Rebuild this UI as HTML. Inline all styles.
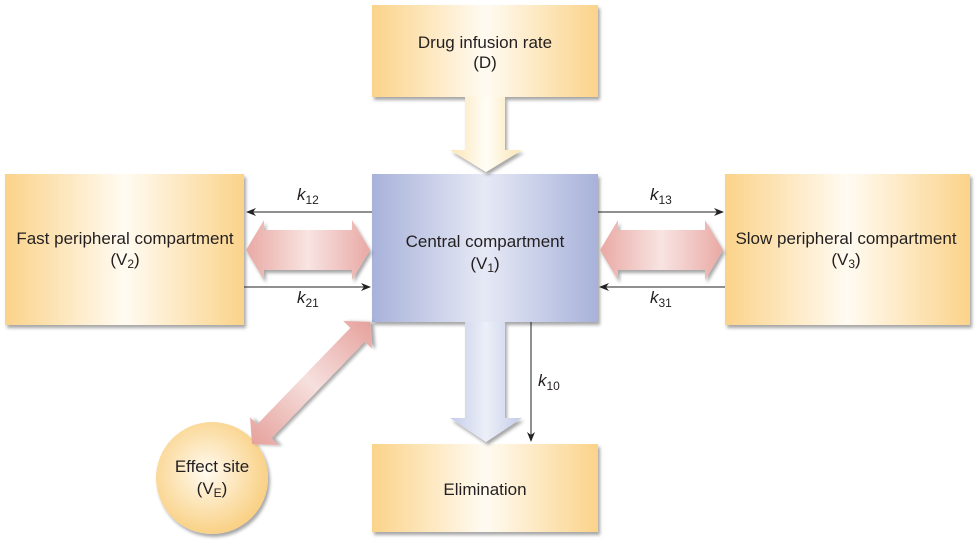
<!DOCTYPE html>
<html><head><meta charset="utf-8"><style>
html,body{margin:0;padding:0;background:#fff}
svg{display:block;font-family:"Liberation Sans",sans-serif}
</style></head><body>
<svg width="975" height="544" viewBox="0 0 975 544">
<defs>
<linearGradient id="yel" x1="0" x2="1" y1="0" y2="0"><stop offset="0" stop-color="#fbd38a"/><stop offset="0.5" stop-color="#fffbf2"/><stop offset="1" stop-color="#fbd38a"/></linearGradient>
<linearGradient id="blu" x1="0" x2="1" y1="0" y2="0"><stop offset="0" stop-color="#a8b2da"/><stop offset="0.5" stop-color="#e6e9f5"/><stop offset="1" stop-color="#a8b2da"/></linearGradient>
<linearGradient id="pink" x1="0" x2="1" y1="0" y2="0"><stop offset="0" stop-color="#e9a9a4"/><stop offset="0.5" stop-color="#f8e4e2"/><stop offset="1" stop-color="#e9a9a4"/></linearGradient>
<linearGradient id="pinkd" x1="0" x2="1" y1="0" y2="0"><stop offset="0" stop-color="#e6a19c"/><stop offset="0.5" stop-color="#f6e0de"/><stop offset="1" stop-color="#e6a19c"/></linearGradient>
<linearGradient id="cream" x1="0" x2="1"><stop offset="0" stop-color="#fbe6b4"/><stop offset="0.5" stop-color="#fffdf6"/><stop offset="1" stop-color="#fbe6b4"/></linearGradient>
<linearGradient id="lblu" x1="0" x2="1"><stop offset="0" stop-color="#c5cce8"/><stop offset="0.5" stop-color="#eceff8"/><stop offset="1" stop-color="#c5cce8"/></linearGradient>
<radialGradient id="circ" cx="0.45" cy="0.45" r="0.6"><stop offset="0" stop-color="#fffbf0"/><stop offset="1" stop-color="#f9cd7c"/></radialGradient>
<filter id="sh" x="-10%" y="-10%" width="130%" height="130%"><feDropShadow dx="2" dy="3" stdDeviation="1.5" flood-color="#000" flood-opacity="0.35"/></filter>
<marker id="ah" markerWidth="10" markerHeight="8" refX="9" refY="4" orient="auto" markerUnits="userSpaceOnUse"><path d="M0,0 L10,4 L0,8 L3,4 Z" fill="#222"/></marker>
</defs>

<rect x="372" y="5" width="226" height="92" fill="url(#yel)" filter="url(#sh)"/>
<rect x="5" y="174" width="239" height="151" fill="url(#yel)" filter="url(#sh)"/>
<rect x="372" y="174" width="226" height="148" fill="url(#blu)" filter="url(#sh)"/>
<rect x="725" y="174" width="245" height="151" fill="url(#yel)" filter="url(#sh)"/>
<rect x="372" y="444" width="226" height="88" fill="url(#yel)" filter="url(#sh)"/>
<circle cx="212" cy="478" r="56" fill="url(#circ)" filter="url(#sh)"/>

<path d="M465,97 H505 V150 H522 L486,172 L450,150 H465 Z" fill="url(#cream)" filter="url(#sh)"/>
<path d="M465,322 H505 V418 H522 L486,442 L450,418 H465 Z" fill="url(#lblu)" filter="url(#sh)"/>
<path d="M246,250 L264,220 V230 H352 V220 L370,250 L352,280 V270 H264 V280 Z" fill="url(#pink)" filter="url(#sh)"/>
<path d="M600,250 L618,220 V230 H705 V220 L723,250 L705,280 V270 H618 V280 Z" fill="url(#pink)" filter="url(#sh)"/>
<g transform="translate(311,383) rotate(-46)">
<path d="M-85,0 L-67,-20 V-10 H67 V-20 L85,0 L67,20 V10 H-67 V20 Z" fill="url(#pinkd)" filter="url(#sh)"/>
</g>

<line x1="372" y1="212" x2="247" y2="212" stroke="#222" stroke-width="1" marker-end="url(#ah)"/>
<line x1="244" y1="287" x2="370" y2="287" stroke="#222" stroke-width="1" marker-end="url(#ah)"/>
<line x1="598" y1="212" x2="723" y2="212" stroke="#222" stroke-width="1" marker-end="url(#ah)"/>
<line x1="725" y1="287" x2="600" y2="287" stroke="#222" stroke-width="1" marker-end="url(#ah)"/>
<line x1="531" y1="322" x2="531" y2="441" stroke="#222" stroke-width="1" marker-end="url(#ah)"/>

<g fill="#231f20" font-size="17" text-anchor="middle">
<text x="485" y="48">Drug infusion rate</text>
<text x="485" y="68">(D)</text>
<text x="125" y="244">Fast peripheral compartment</text>
<text x="125" y="265">(V<tspan font-size="12" dy="3">2</tspan><tspan dy="-3">)</tspan></text>
<text x="485" y="247">Central compartment</text>
<text x="485" y="269">(V<tspan font-size="12" dy="3">1</tspan><tspan dy="-3">)</tspan></text>
<text x="846" y="244">Slow peripheral compartment</text>
<text x="846" y="265">(V<tspan font-size="12" dy="3">3</tspan><tspan dy="-3">)</tspan></text>
<text x="485" y="495">Elimination</text>
<text x="212" y="472">Effect site</text>
<text x="212" y="494">(V<tspan font-size="12" dy="3">E</tspan><tspan dy="-3">)</tspan></text>
</g>
<g fill="#231f20" font-size="17">
<text x="297" y="200"><tspan font-style="italic">k</tspan><tspan font-size="12" dy="4">12</tspan></text>
<text x="297" y="303"><tspan font-style="italic">k</tspan><tspan font-size="12" dy="4">21</tspan></text>
<text x="650" y="200"><tspan font-style="italic">k</tspan><tspan font-size="12" dy="4">13</tspan></text>
<text x="650" y="303"><tspan font-style="italic">k</tspan><tspan font-size="12" dy="4">31</tspan></text>
<text x="538" y="386"><tspan font-style="italic">k</tspan><tspan font-size="12" dy="4">10</tspan></text>
</g>
</svg>
</body></html>
